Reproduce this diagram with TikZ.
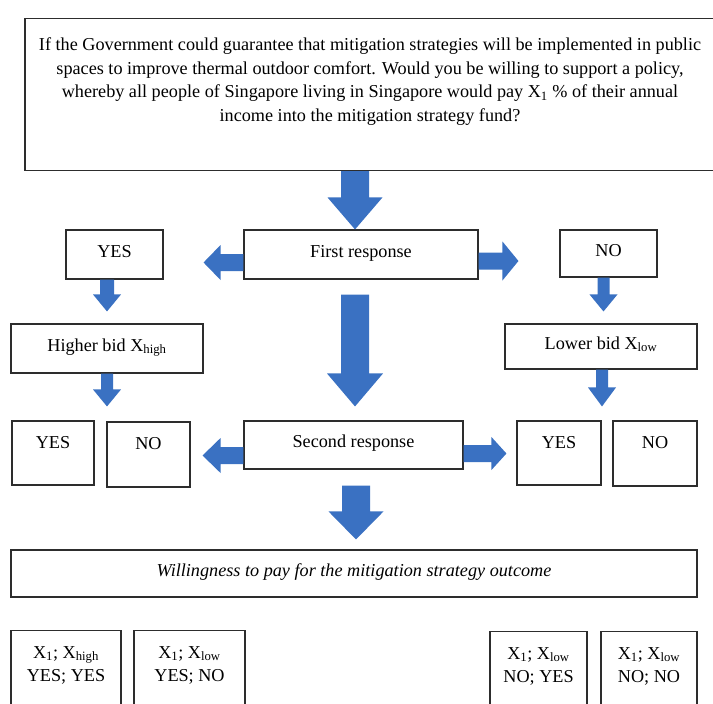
\documentclass[tikz,border=0pt]{standalone}
\usepackage{fontspec}
\setmainfont{Liberation Serif}
\usetikzlibrary{calc}

\definecolor{arrowblue}{RGB}{58,113,194}
\definecolor{boxline}{RGB}{45,45,45}

\tikzset{
  box/.style={draw=boxline, line width=1.1pt, inner sep=0pt,
    text height=12pt, text depth=7pt, font=\fontsize{18.2}{23.5}\selectfont},
  tallbox/.style={box, text depth=22pt},
  tailbox/.style={box, anchor=north, align=center, inner ysep=15.5pt,
    text height=35.5pt, text depth=56.5pt},
}

% block arrows: start, target, shaft half width, head half width, head length
\newcommand{\blockfill}[3]{%
  \coordinate (bh) at ($(bt)!#3!(bs)$);
  \fill[arrowblue] ($(bs)!#1!90:(bt)$) -- ($(bh)!#1!90:(bt)$) -- ($(bh)!#2!90:(bt)$) -- (bt)
    -- ($(bh)!#2!-90:(bt)$) -- ($(bh)!#1!-90:(bt)$) -- ($(bs)!#1!-90:(bt)$) -- cycle;}
\newcommand{\vblock}[5]{%
  \coordinate (bs) at (#1);
  \coordinate (bt0) at (#2);
  \coordinate (bt) at (bs |- bt0);
  \blockfill{#3}{#4}{#5}}
\newcommand{\hblock}[5]{%
  \coordinate (bs) at (#1);
  \coordinate (bt0) at (#2);
  \coordinate (bt) at (bs -| bt0);
  \blockfill{#3}{#4}{#5}}

\begin{document}
\begin{tikzpicture}[x=1pt, y=-1pt]
    \useasboundingbox (0,0) rectangle (713,704);

    % 1. QUESTION BOX (right edge runs off the page)
    \node[box, anchor=north, align=center, inner ysep=20pt, text height=82.5pt, text depth=29.5pt,
      minimum width=690pt] (question) at (370,18)
      {If the Government could guarantee that mitigation strategies will be implemented in public\\
      spaces to improve thermal outdoor comfort. Would you be willing to support a policy,\\
      whereby all people of Singapore living in Singapore would pay X\textsubscript{1} \% of their annual\\
      income into the mitigation strategy fund?};

    % 2. FIRST RESPONSE ROW
    \node[box, minimum width=97pt, minimum height=49pt] (yes1) at (114.5,254.5) {YES};
    \node[box, minimum width=234pt, minimum height=49pt] (first) at (361,254.5) {First response};
    \node[box, minimum width=97pt, minimum height=47pt] (no1) at (608.5,253.5) {NO};

    % 3. FOLLOW-UP BIDS
    \node[box, minimum width=192pt, minimum height=49pt] (higher) at (107,348.5) {Higher bid X\textsubscript{high}};
    \node[box, minimum width=192pt, minimum height=45pt] (lower) at (601,346.5) {Lower bid X\textsubscript{low}};

    % 4. SECOND RESPONSE ROW
    \node[tallbox, minimum width=82pt, minimum height=64pt] (yes2) at (53,453) {YES};
    \node[tallbox, minimum width=83pt, minimum height=65pt] (no2) at (148.5,454.5) {NO};
    \node[box, minimum width=219pt, minimum height=48pt] (second) at (353.5,445) {Second response};
    \node[tallbox, minimum width=84pt, minimum height=64pt] (yes3) at (559,453) {YES};
    \node[tallbox, minimum width=84pt, minimum height=65pt] (no3) at (655,453.5) {NO};

    % 5. OUTCOME
    \node[box, minimum width=686pt, minimum height=47pt, font=\fontsize{18.2}{23.5}\selectfont\itshape]
      (wtp) at (354,573.5) {Willingness to pay for the mitigation strategy outcome};

    % 6. BID / ANSWER COMBINATIONS (cut by the bottom edge)
    \node[tailbox, minimum width=110pt] (comb1) at (66,630) {X\textsubscript{1}; X\textsubscript{high}\\YES; YES};
    \node[tailbox, minimum width=111pt] (comb2) at (189.5,630) {X\textsubscript{1}; X\textsubscript{low}\\YES; NO};
    \node[tailbox, minimum width=97pt] (comb3) at (538.5,631) {X\textsubscript{1}; X\textsubscript{low}\\NO; YES};
    \node[tailbox, minimum width=96pt] (comb4) at (649,631) {X\textsubscript{1}; X\textsubscript{low}\\NO; NO};

    % 7. BLOCK ARROWS
    \vblock{$(question.south)+(-15,0)$}{first.north}{14pt}{27.5pt}{32pt}
    \hblock{$(first.west)+(0,8)$}{$(yes1.east)+(40,0)$}{8.5pt}{17.5pt}{17pt}
    \hblock{$(first.east)+(0,6.5)$}{$(no1.west)+(-41,0)$}{8.5pt}{19.5pt}{16pt}
    \vblock{$(yes1.south)+(-7.5,0)$}{$(higher.north)+(0,-12)$}{7pt}{14pt}{17pt}
    \vblock{$(no1.south)+(-5,0)$}{$(lower.north)+(0,-12)$}{6pt}{14pt}{17pt}
    \vblock{$(first.south)+(-6,15)$}{$(second.north)+(0,-14)$}{14pt}{28pt}{33pt}
    \vblock{higher.south}{$(yes2.north)+(0,-14)$}{6pt}{14pt}{17pt}
    \vblock{$(lower.south)+(1,0)$}{$(yes3.north)+(0,-14)$}{6pt}{14pt}{19pt}
    \hblock{$(second.west)+(0,10.5)$}{$(no2.east)+(12,0)$}{8.5pt}{17.5pt}{18pt}
    \hblock{$(second.east)+(0,8.5)$}{$(yes3.west)+(-10,0)$}{8.5pt}{16.5pt}{15pt}
    \vblock{$(second.south)+(2.5,16)$}{$(wtp.north)+(0,-10)$}{14pt}{27.5pt}{28pt}

\end{tikzpicture}
\end{document}
